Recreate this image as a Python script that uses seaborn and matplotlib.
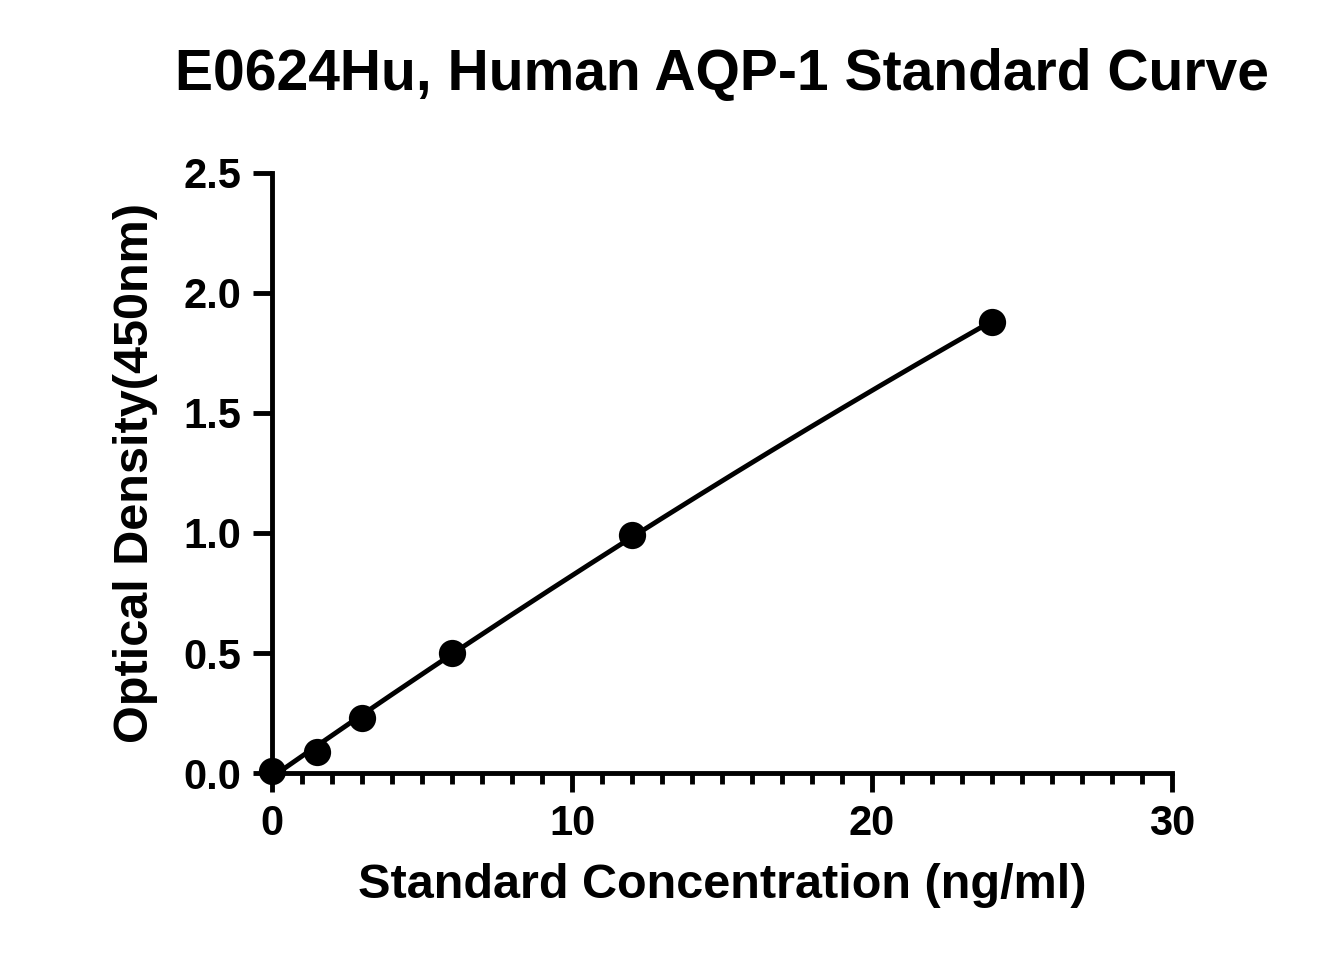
import numpy as np
import matplotlib
matplotlib.use("Agg")
import matplotlib.pyplot as plt
import seaborn as sns
from matplotlib.ticker import MultipleLocator

sns.set_theme(style="ticks")
plt.rcParams['font.family'] = ['Liberation Sans', 'DejaVu Sans']
plt.rcParams['text.color'] = 'black'
plt.rcParams['xtick.color'] = 'black'
plt.rcParams['ytick.color'] = 'black'
plt.rcParams['axes.labelcolor'] = 'black'

conc = [0, 1.5, 3, 6, 12, 24]
od = [0.01, 0.09, 0.23, 0.50, 0.99, 1.88]

fig = plt.figure(figsize=(13.2, 9.75), dpi=100)
ax = fig.add_axes([0.206, 0.207, 0.682, 0.616])

coef = np.polyfit(conc, od, 2)
xs = np.linspace(0, 24, 200)
sns.lineplot(x=xs, y=np.polyval(coef, xs), color='black', lw=3.5, ax=ax)
sns.scatterplot(x=conc, y=od, color='black', s=330, edgecolor='black', ax=ax, clip_on=False, zorder=5)

ax.set_xlim(0, 30)
ax.set_ylim(0, 2.5)
ax.xaxis.set_major_locator(MultipleLocator(10))
ax.xaxis.set_minor_locator(MultipleLocator(1))
ax.yaxis.set_major_locator(MultipleLocator(0.5))
ax.yaxis.set_major_formatter(matplotlib.ticker.FormatStrFormatter('%.1f'))
for s in ['top', 'right']:
    ax.spines[s].set_visible(False)
for s in ['left', 'bottom']:
    ax.spines[s].set_linewidth(3.5)
    ax.spines[s].set_color('black')
ax.tick_params(axis='both', which='major', length=14, width=3.5, labelsize=30, color='black', pad=8)
ax.tick_params(axis='x', which='minor', length=8, width=3.5, color='black')
for t in ax.get_xticklabels() + ax.get_yticklabels():
    t.set_fontweight('bold')
ax.set_xlabel('Standard Concentration (ng/ml)', fontsize=35, fontweight='bold', labelpad=14)
ax.set_ylabel('Optical Density(450nm)', fontsize=35, fontweight='bold', labelpad=18)
fig.text(0.547, 0.923, 'E0624Hu, Human AQP-1 Standard Curve', ha='center', va='center', fontsize=41, fontweight='bold')
fig.savefig('out.png', dpi=100)
